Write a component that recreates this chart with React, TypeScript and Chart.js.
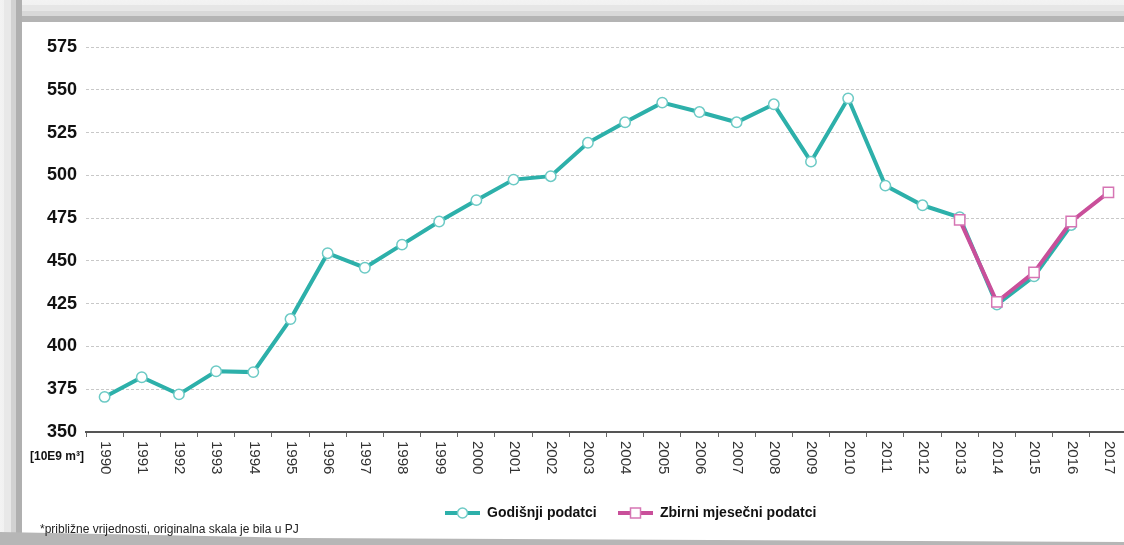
import React, { useEffect, useRef } from "react";
import { Chart, registerables } from "chart.js";

Chart.register(...registerables);

const years = [
  "1990", "1991", "1992", "1993", "1994", "1995", "1996", "1997", "1998", "1999",
  "2000", "2001", "2002", "2003", "2004", "2005", "2006", "2007", "2008", "2009",
  "2010", "2011", "2012", "2013", "2014", "2015", "2016", "2017",
];

const annualValues: (number | null)[] = [
  370.5, 382, 372, 385.5, 385, 416, 454.5, 446, 459.5, 473,
  485.5, 497.5, 499.5, 519, 531, 542.5, 537, 531, 541.5, 508,
  545, 494, 482.5, 475.5, 424.5, 441, 471, null,
];

const monthlyValues: (number | null)[] = [
  null, null, null, null, null, null, null, null, null, null,
  null, null, null, null, null, null, null, null, null, null,
  null, null, null, 474, 426, 443.3, 473, 490,
];

const yMin = 350;
const yMax = 575;
const yStep = 25;

const seriesNames = ["Godišnji podatci", "Zbirni mjesečni podatci"];
const unitLabel = "[10E9 m³]";
const footnote = "*približne vrijednosti, originalna skala je bila u PJ";

const TEAL = "#2db0aa";
const TEAL_LIGHT = "#6ccac5";
const PINK = "#c94f9a";
const PINK_LIGHT = "#d675b4";
const FONT = "'Liberation Sans', Arial, sans-serif";

const overlayPlugin = {
  id: "overlay",
  afterDraw(chart: any) {
    const ctx = chart.ctx as CanvasRenderingContext2D;
    const xs = chart.scales.x;
    ctx.save();
    // rotated x labels (clockwise)
    ctx.fillStyle = "#333";
    ctx.font = `15px ${FONT}`;
    ctx.textAlign = "left";
    ctx.textBaseline = "middle";
    years.forEach((lab, i) => {
      const x = xs.getPixelForValue(i);
      ctx.save();
      ctx.translate(x + 0.5, xs.top + 9);
      ctx.rotate(Math.PI / 2);
      ctx.fillText(lab, 0, 0);
      ctx.restore();
    });

    // unit label
    ctx.fillStyle = "#111";
    ctx.font = `bold 12px ${FONT}`;
    ctx.textAlign = "right";
    ctx.fillText(unitLabel, 84, 457);

    // footnote
    ctx.fillStyle = "#222";
    ctx.font = `12px ${FONT}`;
    ctx.textAlign = "left";
    ctx.fillText(footnote, 40, 530);

    // legend
    const ly = 513;
    ctx.strokeStyle = TEAL;
    ctx.lineWidth = 4;
    ctx.beginPath();
    ctx.moveTo(445, ly);
    ctx.lineTo(480, ly);
    ctx.stroke();
    ctx.beginPath();
    ctx.arc(462.5, ly, 5, 0, Math.PI * 2);
    ctx.fillStyle = "#fff";
    ctx.fill();
    ctx.lineWidth = 1.5;
    ctx.strokeStyle = TEAL_LIGHT;
    ctx.stroke();
    ctx.fillStyle = "#111";
    ctx.font = `bold 14px ${FONT}`;
    ctx.textAlign = "left";
    ctx.fillText(seriesNames[0], 487, ly);

    ctx.strokeStyle = PINK;
    ctx.lineWidth = 4;
    ctx.beginPath();
    ctx.moveTo(618, ly);
    ctx.lineTo(653, ly);
    ctx.stroke();
    ctx.fillStyle = "#fff";
    ctx.fillRect(630.5, ly - 5, 10, 10);
    ctx.lineWidth = 1.5;
    ctx.strokeStyle = PINK_LIGHT;
    ctx.strokeRect(630.5, ly - 5, 10, 10);
    ctx.fillStyle = "#111";
    ctx.fillText(seriesNames[1], 660, ly);
    ctx.restore();
  },
};

export default function App() {
  const canvasRef = useRef<HTMLCanvasElement | null>(null);

  useEffect(() => {
    const canvas = canvasRef.current;
    if (!canvas) return;
    const chart = new Chart(canvas, {
      type: "line",
      data: {
        labels: years,
        datasets: [
          {
            label: seriesNames[1],
            data: monthlyValues,
            order: 0,
            borderColor: PINK,
            borderWidth: 4,
            pointStyle: "rect",
            pointRadius: 7.3,
            pointBorderWidth: 1.5,
            pointBorderColor: PINK_LIGHT,
            pointBackgroundColor: "#fff",
            tension: 0,
            spanGaps: false,
          },
          {
            label: seriesNames[0],
            data: annualValues,
            order: 1,
            borderColor: TEAL,
            borderWidth: 4,
            pointStyle: "circle",
            pointRadius: 5.2,
            pointBorderWidth: 1.5,
            pointBorderColor: TEAL_LIGHT,
            pointBackgroundColor: "#fff",
            tension: 0,
            spanGaps: false,
          },
        ],
      },
      options: {
        animation: false,
        responsive: false,
        maintainAspectRatio: false,
        layout: { autoPadding: false, padding: { left: 0, top: 47, right: 0, bottom: 0 } },
        plugins: {
          legend: { display: false },
          tooltip: { enabled: false },
        },
        scales: {
          x: {
            type: "category",
            offset: true,
            grid: {
              display: true,
              drawOnChartArea: false,
              drawTicks: true,
              tickLength: 5,
              color: "#666",
              lineWidth: 1,
              offset: true,
            },
            border: { display: true, color: "#555", width: 2 },
            ticks: { display: false },
            afterFit: (scale: any) => {
              scale.height = 113;
            },
          },
          y: {
            min: yMin,
            max: yMax,
            ticks: {
              stepSize: yStep,
              padding: 9,
              color: "#111",
              font: { family: FONT, size: 18, weight: "bold" },
            },
            grid: {
              color: "#c8c8c8",
              lineWidth: 1,
              drawTicks: false,
            },
            border: { display: false, dash: [3, 2] },
            afterFit: (scale: any) => {
              scale.width = 86;
            },
          },
        },
      },
      plugins: [overlayPlugin],
    });
    return () => chart.destroy();
  }, []);

  return (
    <div
      style={{
        position: "fixed",
        left: 0,
        top: 0,
        width: 1124,
        height: 545,
        overflow: "hidden",
        background: "#fff",
      }}
    >
      <div
        style={{
          position: "absolute",
          left: 0,
          top: 0,
          width: 1124,
          height: 22,
          background:
            "linear-gradient(to bottom, #f3f3f3 0px, #f1f1f1 5px, #e6e6e6 5px, #e6e6e6 11px, #d8d8d8 11px, #d8d8d8 16px, #b4b4b4 16px, #b4b4b4 22px)",
        }}
      />
      <div
        style={{
          position: "absolute",
          left: 0,
          top: 0,
          width: 22,
          height: 545,
          background:
            "linear-gradient(to right, #f3f3f3 0px, #f1f1f1 4px, #e8e8e8 4px, #e8e8e8 11px, #d2d2d2 11px, #d2d2d2 16px, #b0b0b0 16px, #b0b0b0 22px)",
        }}
      />
      <div
        style={{
          position: "absolute",
          left: 0,
          top: 0,
          width: 1124,
          height: 545,
          background: "#b6b6b6",
          clipPath: "polygon(0px 532px, 300px 538px, 1124px 542px, 1124px 545px, 0px 545px)",
        }}
      />
      <canvas
        ref={canvasRef}
        width={1127}
        height={545}
        style={{ position: "absolute", left: 0, top: 0, width: 1127, height: 545 }}
      />
    </div>
  );
}
